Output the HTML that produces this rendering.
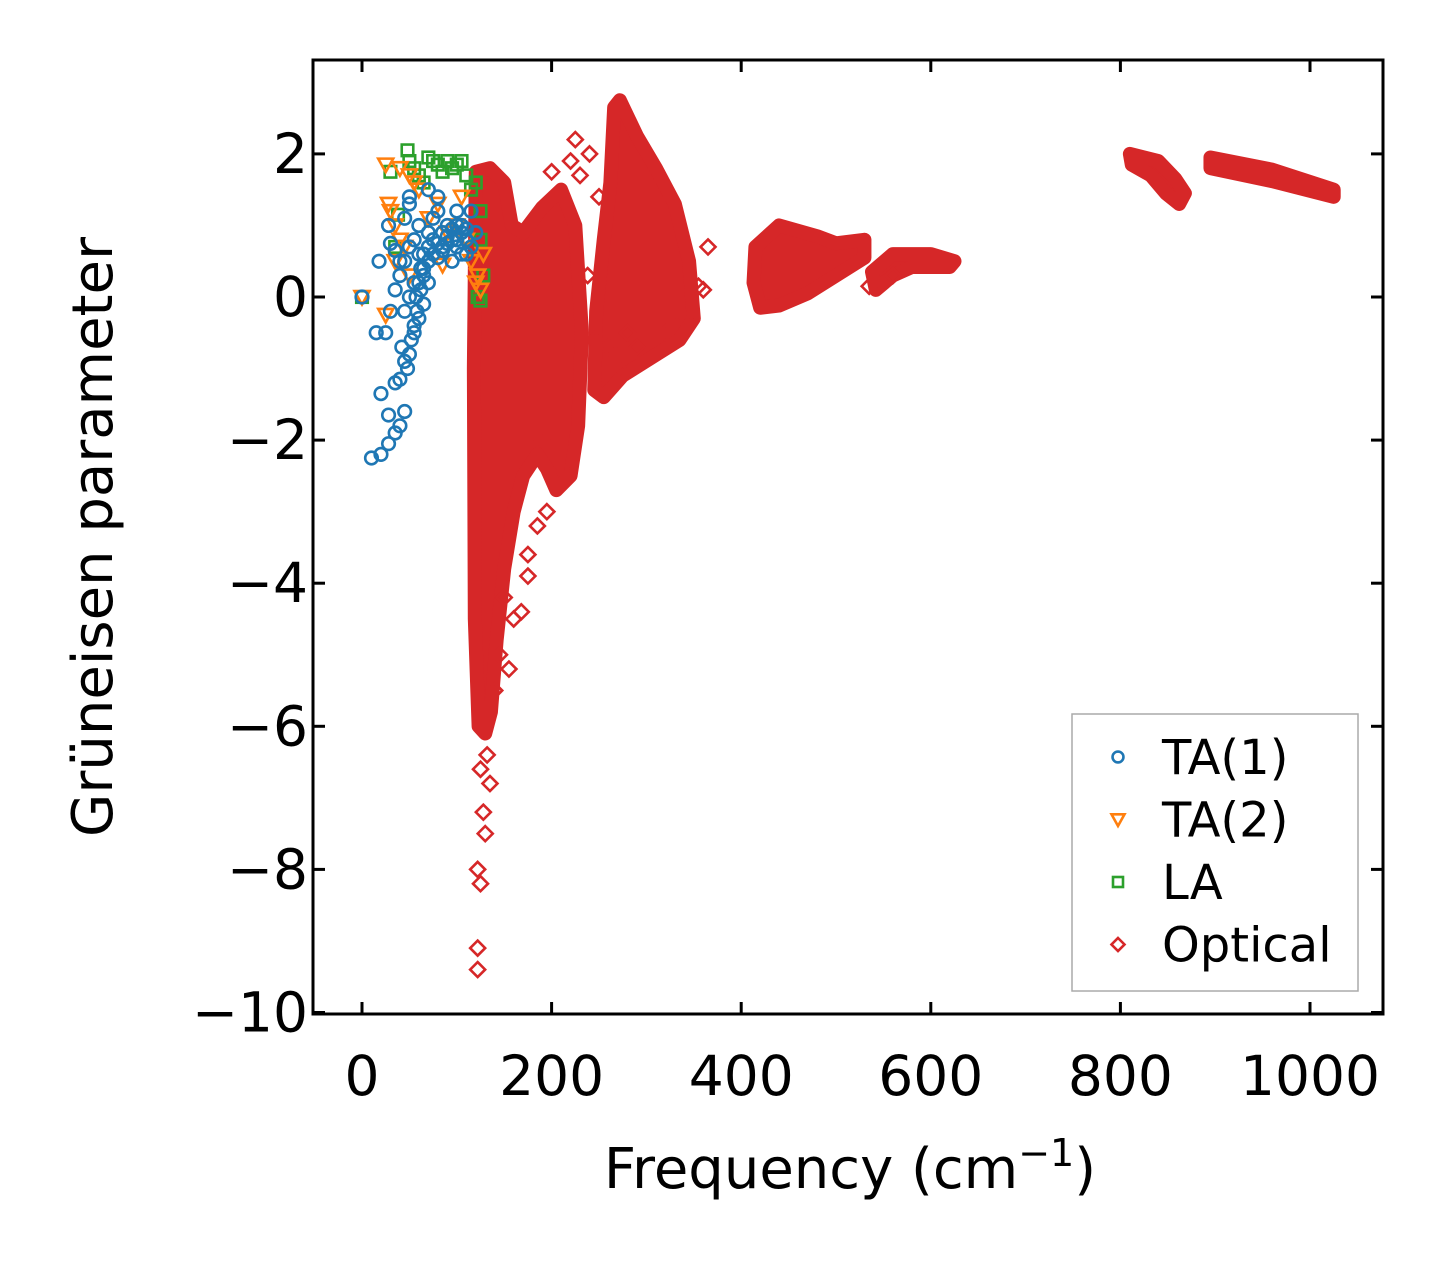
<!DOCTYPE html>
<html><head><meta charset="utf-8"><style>
html,body{margin:0;padding:0;background:#fff;}
svg{display:block;font-family:"DejaVu Sans","Liberation Sans",sans-serif;}
</style></head><body>
<svg id="chart" width="1446" height="1264" viewBox="0 0 1446 1264">
<g id="blobs"></g>
<g id="marks"></g>
<rect x="313" y="60" width="1070" height="954" fill="none" stroke="#000" stroke-width="3"/>
<g id="axes"></g>
<text x="850" y="1188" font-size="56" text-anchor="middle">Frequency (cm<tspan baseline-shift="super" font-size="38">−1</tspan>)</text>
<text transform="translate(112,537) rotate(-90)" font-size="56" text-anchor="middle">Grüneisen parameter</text>
<g>
<rect x="1072" y="714" width="286" height="277" fill="#fff" stroke="#aaa" stroke-width="1.5"/>
<g id="legend"></g>
</g>
</svg>
<script>
const xTicks=[0,200,400,600,800,1000];
const yTicks=[2,0,-2,-4,-6,-8,-10];
const seriesNames=["TA(1)","TA(2)","LA","Optical"];
const ta1F=[10,20,28,35,40,45,20,28,35,40,45,50,55,60,65,70,15,25,30,35,40,45,50,55,60,65,30,35,40,18,28,45,50,50,60,75,80,90,100,110,120,115,95,85,70,45,50,55,70,80,100,105,0,52,58,62,48,42,65,70,75,80,85,90,95,100,105,110,115,70,75,80,85,90,95,100,105,110,60,65,55,57,62];
const ta1G=[-2.25,-2.2,-2.05,-1.9,-1.8,-1.6,-1.35,-1.65,-1.2,-1.15,-0.9,-0.8,-0.5,-0.3,-0.1,0.2,-0.5,-0.5,-0.2,0.1,0.3,0.5,0.7,0.8,0.6,0.4,0.75,0.65,0.5,0.5,1.0,1.1,1.3,1.4,1.0,1.1,1.2,1.0,0.8,0.6,0.9,1.2,0.5,0.7,0.9,-0.2,0.0,0.2,1.5,1.4,1.2,1.0,0,-0.6,-0.2,0.4,-1.0,-0.7,0.6,0.7,0.8,0.75,0.9,0.85,0.95,1.0,0.9,0.8,0.7,0.5,0.6,0.55,0.65,0.75,0.8,0.7,0.6,0.95,0.2,0.3,-0.4,0.0,0.1];
const ta2F=[0,25,40,50,28,30,35,40,45,25,35,50,55,60,80,90,105,120,125,122,115,100,70,85,110,128];
const ta2G=[0,1.85,1.8,1.7,1.3,1.2,1.0,0.8,0.7,-0.25,0.5,0.3,1.6,1.5,1.3,0.9,1.4,0.2,0.1,0.3,0.5,1.0,1.1,0.45,0.8,0.6];
const laF=[0,30,38,48,50,55,60,70,75,80,90,95,100,110,120,125,125,128,122,125,65,85,105,115,35];
const laG=[0,1.75,1.15,2.05,1.9,1.8,1.7,1.95,1.9,1.85,1.9,1.8,1.85,1.7,1.6,1.2,0.8,0.3,0.0,-0.05,1.6,1.75,1.9,1.5,0.7];
const optF=[122,122,125,122,130,128,125,135,132,140,160,175,175,195,185,365,355,535,560,225,220,240,200,230,250,260,270,280,145,150,168,155,238,245,290,320,340,360,210,190];
const optG=[-9.4,-9.1,-8.2,-8.0,-7.5,-7.2,-6.6,-6.8,-6.4,-5.5,-4.5,-3.9,-3.6,-3.0,-3.2,0.7,0.15,0.15,0.3,2.2,1.9,2.0,1.75,1.7,1.4,-0.7,-1.0,-0.5,-5.0,-4.2,-4.4,-5.2,0.3,-0.6,-0.7,-0.5,-0.3,0.1,-2.4,-2.0];
const cloud1F=[120,135,150,158,170,190,210,225,232,228,220,205,195,185,170,160,150,142,136,130,123,119,118];
const cloud1G=[1.75,1.8,1.6,1.0,0.9,1.25,1.5,1.0,-0.5,-1.8,-2.5,-2.7,-2.4,-2.2,-2.5,-3.0,-3.8,-4.8,-5.8,-6.1,-6.0,-4.5,-1.0];
const cloud2F=[266,272,290,310,330,345,350,335,305,275,255,245,247,255,262];
const cloud2G=[2.65,2.75,2.25,1.8,1.3,0.5,-0.3,-0.6,-0.85,-1.1,-1.4,-1.3,-0.2,0.8,1.6];
const cloud3F=[415,440,480,500,530,530,500,470,440,420,413];
const cloud3G=[0.7,1.0,0.85,0.75,0.8,0.55,0.3,0.05,-0.12,-0.15,0.2];
const cloud4F=[538,560,600,625,620,580,560,542];
const cloud4G=[0.35,0.6,0.6,0.5,0.42,0.42,0.3,0.1];
const cloud5F=[810,840,858,868,862,848,832,812];
const cloud5G=[2.0,1.9,1.65,1.45,1.3,1.45,1.7,1.85];
const cloud6F=[895,960,1025,1025,960,895];
const cloud6G=[1.95,1.78,1.5,1.4,1.62,1.8];

const X=v=>362+v*0.948;
const Y=v=>297-v*71.55;
const NS="http://www.w3.org/2000/svg";
const C={b:"#1f77b4",o:"#ff7f0e",g:"#2ca02c",r:"#d62728"};
function mk(tag,parent){const e=document.createElementNS(NS,tag);parent.appendChild(e);return e;}
const axes=document.getElementById('axes');
xTicks.forEach(t=>{
  [[1014,1002],[60,72]].forEach(([a,b])=>{const l=mk('line',axes);l.setAttribute('x1',X(t));l.setAttribute('x2',X(t));l.setAttribute('y1',a);l.setAttribute('y2',b);l.setAttribute('stroke','#000');l.setAttribute('stroke-width',3);
  
  });
  const tx=mk('text',axes);tx.setAttribute('x',X(t));tx.setAttribute('y',1095);tx.setAttribute('font-size',55);tx.setAttribute('text-anchor','middle');tx.textContent=t;
  
  
});
yTicks.forEach(t=>{
  [[313,325],[1383,1371]].forEach(([a,b])=>{const l=mk('line',axes);l.setAttribute('y1',Y(t));l.setAttribute('y2',Y(t));l.setAttribute('x1',a);l.setAttribute('x2',b);l.setAttribute('stroke','#000');l.setAttribute('stroke-width',3);
  
  });
  const tx=mk('text',axes);tx.setAttribute('x',308);tx.setAttribute('y',Y(t)+19);tx.setAttribute('font-size',55);tx.setAttribute('text-anchor','end');tx.textContent=(t<0?'−':'')+Math.abs(t);
  
  
});
const blobs=document.getElementById('blobs');
[[cloud1F,cloud1G],[cloud2F,cloud2G],[cloud3F,cloud3G],[cloud4F,cloud4G],[cloud5F,cloud5G],[cloud6F,cloud6G]].forEach(([f,g])=>{
  const p=mk('polygon',blobs);p.setAttribute('points',f.map((v,i)=>X(v)+','+Y(g[i])).join(' '));
  p.setAttribute('fill',C.r);p.setAttribute('stroke',C.r);p.setAttribute('stroke-width',14);p.setAttribute('stroke-linejoin','round');
  
  
});
function marker(parent,type,x,y,col,s){
  let e;
  if(type==='o'){e=mk('circle',parent);e.setAttribute('cx',x);e.setAttribute('cy',y);e.setAttribute('r',s*0.42);}
  else if(type==='v'){e=mk('polygon',parent);e.setAttribute('points',`${x-s/2},${y-s/2.5} ${x+s/2},${y-s/2.5} ${x},${y+s/2}`);}
  else if(type==='s'){e=mk('rect',parent);e.setAttribute('x',x-s/2.6);e.setAttribute('y',y-s/2.6);e.setAttribute('width',s/1.3);e.setAttribute('height',s/1.3);}
  else {e=mk('polygon',parent);e.setAttribute('points',`${x},${y-s/2} ${x+s/2},${y} ${x},${y+s/2} ${x-s/2},${y}`);}
  e.setAttribute('fill','none');e.setAttribute('stroke',col);e.setAttribute('stroke-width',2.6);
  return e;
}
const marks=document.getElementById('marks');
[[optF,optG,'d',C.r,'optical-point'],[laF,laG,'s',C.g,'la-point'],[ta2F,ta2G,'v',C.o,'ta2-point'],[ta1F,ta1G,'o',C.b,'ta1-point']].forEach(([f,g,t,c,n])=>{
  f.forEach((v,i)=>{const e=marker(marks,t,X(v),Y(g[i]),c,15);
    
    });
});
const lg=document.getElementById('legend');
[['o',C.b],['v',C.o],['s',C.g],['d',C.r]].forEach(([t,c],i)=>{
  const y=757+i*62.5;
  const m=marker(lg,t,1118,y,c,13);
  
  
  const tx=mk('text',lg);tx.setAttribute('x',1162);tx.setAttribute('y',y+17);tx.setAttribute('font-size',48);tx.textContent=seriesNames[i];
  
  
});
</script>
</body></html>
